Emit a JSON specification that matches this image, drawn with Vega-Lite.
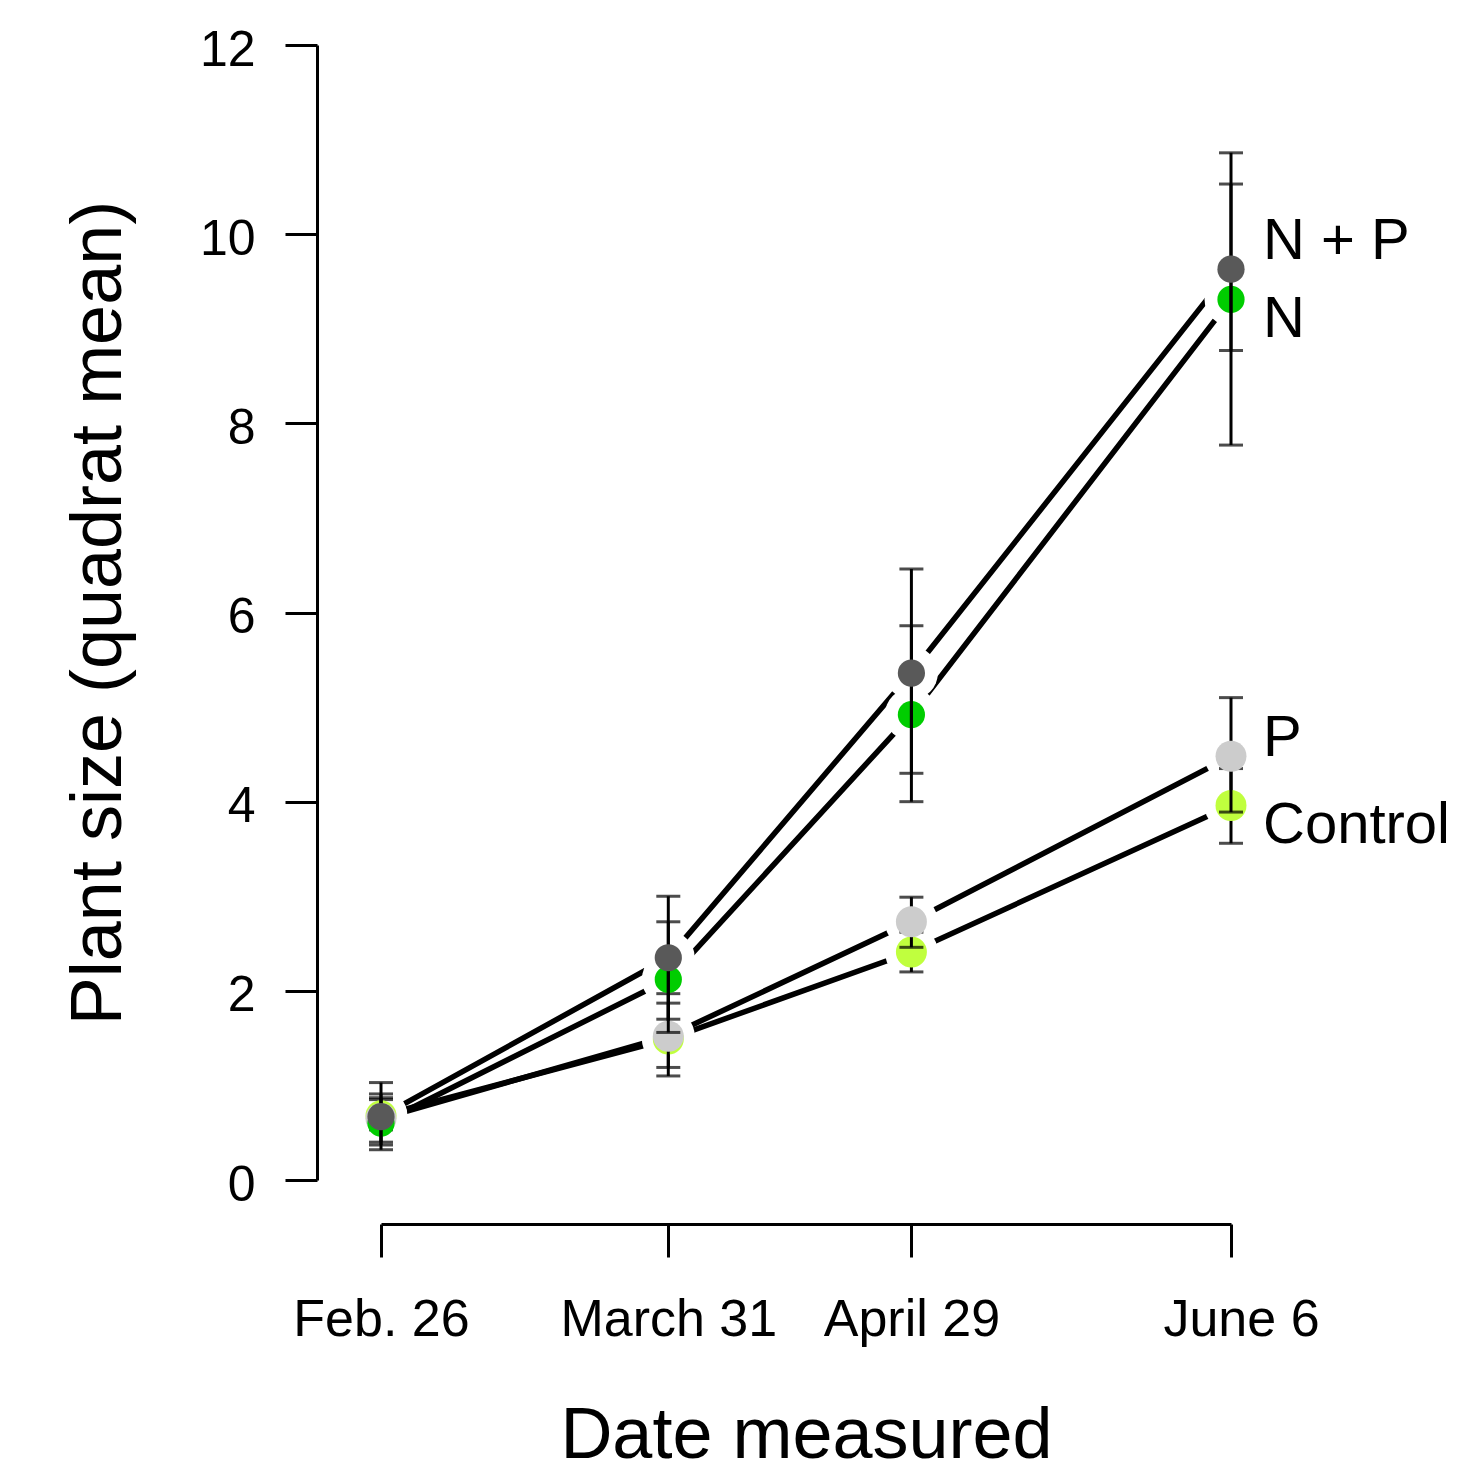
{
  "$schema": "https://vega.github.io/schema/vega-lite/v6.json",
  "width": 850,
  "height": 1135,
  "autosize": {"type": "none"},
  "padding": {"left": 381, "top": 45, "right": 226, "bottom": 293},
  "background": "white",
  "config": {
    "view": {"stroke": null},
    "font": "Liberation Sans",
    "axis": {
      "grid": false,
      "domainColor": "black",
      "domainWidth": 3,
      "tickColor": "black",
      "tickWidth": 3,
      "labelColor": "black",
      "titleColor": "black",
      "titleFontWeight": "normal",
      "labelFont": "Liberation Sans",
      "titleFont": "Liberation Sans",
      "labelLimit": 0,
      "labelOverlap": false
    },
    "axisX": {"offset": 44, "tickSize": 33, "labelFontSize": 52, "labelPadding": 37, "titleFontSize": 72, "titlePadding": 55, "labelFlush": false},
    "axisY": {"offset": 64, "tickSize": 32, "labelFontSize": 50, "labelPadding": 30, "labelOffset": 5, "titleFontSize": 72, "titlePadding": 64}
  },
  "data": {
    "values": [
      {"group": "Control", "date": "Feb. 26", "day": 0, "mean": 0.68, "lo": 0.53, "hi": 0.85},
      {"group": "P", "date": "Feb. 26", "day": 0, "mean": 0.65, "lo": 0.40, "hi": 0.91},
      {"group": "N", "date": "Feb. 26", "day": 0, "mean": 0.60, "lo": 0.37, "hi": 0.87},
      {"group": "N + P", "date": "Feb. 26", "day": 0, "mean": 0.67, "lo": 0.32, "hi": 1.03},
      {"group": "Control", "date": "March 31", "day": 33.8, "mean": 1.49, "lo": 1.19, "hi": 1.87},
      {"group": "P", "date": "March 31", "day": 33.8, "mean": 1.52, "lo": 1.10, "hi": 1.97},
      {"group": "N", "date": "March 31", "day": 33.8, "mean": 2.12, "lo": 1.56, "hi": 2.73},
      {"group": "N + P", "date": "March 31", "day": 33.8, "mean": 2.35, "lo": 1.70, "hi": 3.00},
      {"group": "Control", "date": "April 29", "day": 62.4, "mean": 2.41, "lo": 2.20, "hi": 2.62},
      {"group": "P", "date": "April 29", "day": 62.4, "mean": 2.73, "lo": 2.46, "hi": 2.99},
      {"group": "N", "date": "April 29", "day": 62.4, "mean": 4.92, "lo": 4.00, "hi": 5.86},
      {"group": "N + P", "date": "April 29", "day": 62.4, "mean": 5.36, "lo": 4.30, "hi": 6.46},
      {"group": "Control", "date": "June 6", "day": 100, "mean": 3.96, "lo": 3.56, "hi": 4.35},
      {"group": "P", "date": "June 6", "day": 100, "mean": 4.48, "lo": 3.89, "hi": 5.10},
      {"group": "N", "date": "June 6", "day": 100, "mean": 9.31, "lo": 7.77, "hi": 10.86},
      {"group": "N + P", "date": "June 6", "day": 100, "mean": 9.63, "lo": 8.77, "hi": 10.53}
    ]
  },
  "encoding": {
    "x": {
      "field": "day", "type": "quantitative",
      "scale": {"domain": [0, 100], "nice": false, "zero": false},
      "axis": {
        "title": "Date measured",
        "values": [0, 33.8, 62.4, 100],
        "labelOffset": {"condition": {"test": "datum.value == 100", "value": 10}, "value": 0},
        "labelExpr": "datum.value == 0 ? 'Feb. 26' : datum.value == 100 ? 'June 6' : datum.value < 50 ? 'March 31' : 'April 29'"
      }
    },
    "y": {
      "field": "mean", "type": "quantitative",
      "scale": {"domain": [0, 12], "nice": false},
      "axis": {"title": "Plant size (quadrat mean)", "values": [0, 2, 4, 6, 8, 10, 12]}
    }
  },
  "layer": [
    {
      "mark": {"type": "line", "color": "black", "strokeWidth": 5.5, "strokeCap": "round"},
      "encoding": {"detail": {"field": "group"}}
    },
    {
      "mark": {"type": "circle", "size": 2800, "color": "white", "opacity": 1},
      "encoding": {}
    },
    {
      "transform": [{"filter": "datum.group == 'Control'"}],
      "mark": {"type": "errorbar", "color": "black", "ticks": {"size": 24, "thickness": 3}, "rule": {"strokeWidth": 3}},
      "encoding": {"y": {"field": "lo", "type": "quantitative", "title": "Plant size (quadrat mean)"}, "y2": {"field": "hi"}}
    },
    {
      "transform": [{"filter": "datum.group == 'Control'"}],
      "mark": {"type": "circle", "size": 960, "opacity": 1},
      "encoding": {"color": {"field": "group", "type": "nominal", "scale": {"domain": ["Control", "P", "N", "N + P"], "range": ["#C0FF3E", "#CCCCCC", "#00CD00", "#595959"]}, "legend": null}}
    },
    {
      "transform": [{"filter": "datum.group == 'P'"}],
      "mark": {"type": "errorbar", "color": "black", "ticks": {"size": 24, "thickness": 3}, "rule": {"strokeWidth": 3}},
      "encoding": {"y": {"field": "lo", "type": "quantitative", "title": "Plant size (quadrat mean)"}, "y2": {"field": "hi"}}
    },
    {
      "transform": [{"filter": "datum.group == 'P'"}],
      "mark": {"type": "circle", "size": 960, "opacity": 1},
      "encoding": {"color": {"field": "group", "type": "nominal", "scale": {"domain": ["Control", "P", "N", "N + P"], "range": ["#C0FF3E", "#CCCCCC", "#00CD00", "#595959"]}, "legend": null}}
    },
    {
      "transform": [{"filter": "datum.group == 'N'"}],
      "mark": {"type": "circle", "size": 740, "opacity": 1},
      "encoding": {"color": {"field": "group", "type": "nominal", "scale": {"domain": ["Control", "P", "N", "N + P"], "range": ["#C0FF3E", "#CCCCCC", "#00CD00", "#595959"]}, "legend": null}}
    },
    {
      "transform": [{"filter": "datum.group == 'N'"}],
      "mark": {"type": "errorbar", "color": "black", "ticks": {"size": 24, "thickness": 3}, "rule": {"strokeWidth": 3}},
      "encoding": {"y": {"field": "lo", "type": "quantitative", "title": "Plant size (quadrat mean)"}, "y2": {"field": "hi"}}
    },
    {
      "transform": [{"filter": "datum.group == 'N + P'"}],
      "mark": {"type": "errorbar", "color": "black", "ticks": {"size": 24, "thickness": 3}, "rule": {"strokeWidth": 3}},
      "encoding": {"y": {"field": "lo", "type": "quantitative", "title": "Plant size (quadrat mean)"}, "y2": {"field": "hi"}}
    },
    {
      "transform": [{"filter": "datum.group == 'N + P'"}],
      "mark": {"type": "circle", "size": 740, "opacity": 1},
      "encoding": {"color": {"field": "group", "type": "nominal", "scale": {"domain": ["Control", "P", "N", "N + P"], "range": ["#C0FF3E", "#CCCCCC", "#00CD00", "#595959"]}, "legend": null}}
    },
    {
      "transform": [{"filter": "datum.group == 'N + P' && datum.day == 100"}],
      "mark": {"type": "text", "align": "left", "baseline": "middle", "dx": 32, "dy": -27, "fontSize": 58, "color": "black"},
      "encoding": {"text": {"field": "group"}}
    },
    {
      "transform": [{"filter": "datum.group == 'N' && datum.day == 100"}],
      "mark": {"type": "text", "align": "left", "baseline": "middle", "dx": 32, "dy": 21, "fontSize": 58, "color": "black"},
      "encoding": {"text": {"field": "group"}}
    },
    {
      "transform": [{"filter": "datum.group == 'P' && datum.day == 100"}],
      "mark": {"type": "text", "align": "left", "baseline": "middle", "dx": 32, "dy": -17, "fontSize": 58, "color": "black"},
      "encoding": {"text": {"field": "group"}}
    },
    {
      "transform": [{"filter": "datum.group == 'Control' && datum.day == 100"}],
      "mark": {"type": "text", "align": "left", "baseline": "middle", "dx": 32, "dy": 21, "fontSize": 58, "color": "black"},
      "encoding": {"text": {"field": "group"}}
    }
  ]
}
